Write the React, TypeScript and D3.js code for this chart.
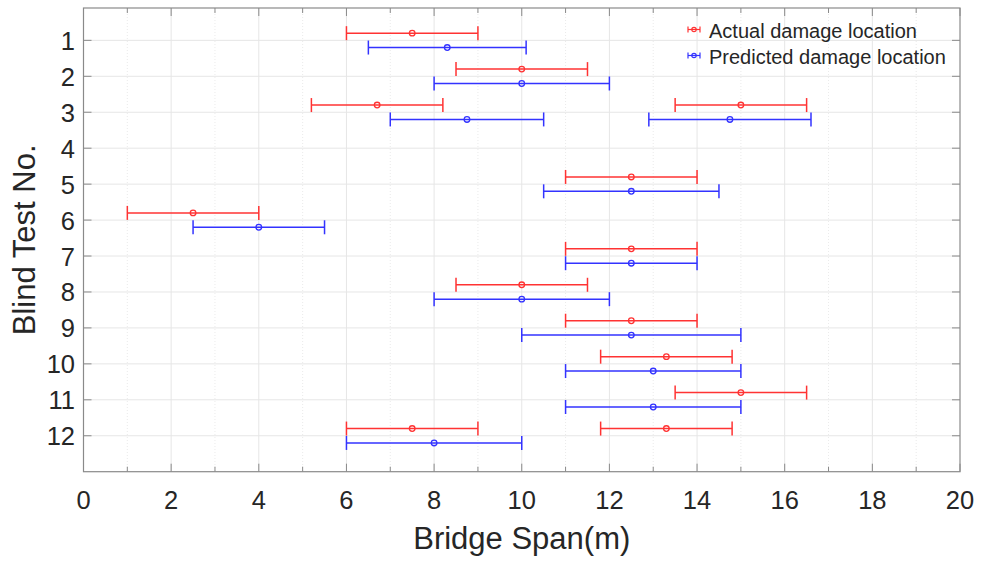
import React from "react";
import * as d3 from "d3";

// Actual damage locations (test no., centre, lower, upper)
const actualTest = [1, 2, 3, 3, 5, 6, 7, 8, 9, 10, 11, 12, 12];
const actualCenter = [7.5, 10, 6.7, 15, 12.5, 2.5, 12.5, 10, 12.5, 13.3, 15, 7.5, 13.3];
const actualLow = [6, 8.5, 5.2, 13.5, 11, 1, 11, 8.5, 11, 11.8, 13.5, 6, 11.8];
const actualHigh = [9, 11.5, 8.2, 16.5, 14, 4, 14, 11.5, 14, 14.8, 16.5, 9, 14.8];

// Predicted damage locations
const predTest = [1, 2, 3, 3, 5, 6, 7, 8, 9, 10, 11, 12];
const predCenter = [8.3, 10, 8.75, 14.75, 12.5, 4, 12.5, 10, 12.5, 13, 13, 8];
const predLow = [6.5, 8, 7, 12.9, 10.5, 2.5, 11, 8, 10, 11, 11, 6];
const predHigh = [10.1, 12, 10.5, 16.6, 14.5, 5.5, 14, 12, 15, 15, 15, 10];

const xMajorTicks = [0, 2, 4, 6, 8, 10, 12, 14, 16, 18, 20];
const xMinorTicks = [1, 3, 5, 7, 9, 11, 13, 15, 17, 19];
const yTicks = [1, 2, 3, 4, 5, 6, 7, 8, 9, 10, 11, 12];

const legendLabels = ["Actual damage location", "Predicted damage location"];

const W = 982;
const H = 561;
const L = 83.5, R = 960, T = 8, B = 471.7;
const RED = "#ff3333";
const BLUE = "#3333ff";
const AXIS = "#8a8a8a";
const TEXT = "#262626";
const FONT = "'Liberation Sans', Arial, Helvetica, sans-serif";

const x = d3.scaleLinear().domain([0, 20]).range([L, R]);
const y = d3.scaleLinear().domain([0.1, 13]).range([T, B]);

function ErrorBars({ tests, centers, lows, highs, offset, color }: any) {
  const cap = 7;
  return (
    <g stroke={color} strokeWidth={1.5} fill="none">
      {tests.map((t: number, i: number) => {
        const yy = y(t + offset);
        return (
          <g key={i}>
            <line x1={x(lows[i])} x2={x(highs[i])} y1={yy} y2={yy} />
            <line x1={x(lows[i])} x2={x(lows[i])} y1={yy - cap} y2={yy + cap} />
            <line x1={x(highs[i])} x2={x(highs[i])} y1={yy - cap} y2={yy + cap} />
            <circle cx={x(centers[i])} cy={yy} r={2.8} strokeWidth={1.3} />
          </g>
        );
      })}
    </g>
  );
}

export default function App() {
  return (
    <svg
      width={W}
      height={H}
      style={{ position: "absolute", left: 0, top: 0, background: "#fff" }}
      fontFamily={FONT}
    >
      <rect x={0} y={0} width={W} height={H} fill="#fff" />
      {/* minor grid */}
      <g stroke="#e4e4e4" strokeWidth={0.8} strokeDasharray="1,2">
        {xMinorTicks.map((v) => (
          <line key={v} x1={x(v)} x2={x(v)} y1={T} y2={B} />
        ))}
      </g>
      {/* major grid */}
      <g stroke="#e6e6e6" strokeWidth={1}>
        {xMajorTicks.slice(1, -1).map((v) => (
          <line key={v} x1={x(v)} x2={x(v)} y1={T} y2={B} />
        ))}
        {yTicks.map((v) => (
          <line key={v} x1={L} x2={R} y1={y(v)} y2={y(v)} />
        ))}
      </g>

      {/* ticks */}
      <g stroke={AXIS} strokeWidth={1}>
        {xMajorTicks.map((v) => (
          <g key={v}>
            <line x1={x(v)} x2={x(v)} y1={B} y2={B - 8} />
            <line x1={x(v)} x2={x(v)} y1={T} y2={T + 8} />
          </g>
        ))}
        {xMinorTicks.map((v) => (
          <g key={v}>
            <line x1={x(v)} x2={x(v)} y1={B} y2={B - 5} />
            <line x1={x(v)} x2={x(v)} y1={T} y2={T + 5} />
          </g>
        ))}
        {yTicks.map((v) => (
          <g key={v}>
            <line x1={L} x2={L + 8} y1={y(v)} y2={y(v)} />
            <line x1={R} x2={R - 8} y1={y(v)} y2={y(v)} />
          </g>
        ))}
      </g>

      {/* data */}
      <ErrorBars tests={actualTest} centers={actualCenter} lows={actualLow} highs={actualHigh} offset={-0.2} color={RED} />
      <ErrorBars tests={predTest} centers={predCenter} lows={predLow} highs={predHigh} offset={0.2} color={BLUE} />

      {/* frame */}
      <rect x={L} y={T} width={R - L} height={B - T} fill="none" stroke={AXIS} strokeWidth={1.2} />

      {/* tick labels */}
      <g fill={TEXT} fontSize={25.5}>
        {xMajorTicks.map((v) => (
          <text key={v} x={x(v)} y={508.5} textAnchor="middle">
            {v}
          </text>
        ))}
        {yTicks.map((v) => (
          <text key={v} x={75} y={y(v) + 9.5} textAnchor="end">
            {v}
          </text>
        ))}
      </g>

      {/* axis labels */}
      <text x={(L + R) / 2} y={548.5} textAnchor="middle" fontSize={31} fill={TEXT}>
        Bridge Span(m)
      </text>
      <text
        transform={`translate(35, ${(T + B) / 2}) rotate(-90)`}
        textAnchor="middle"
        fontSize={31}
        fill={TEXT}
      >
        Blind Test No.
      </text>

      {/* legend */}
      {legendLabels.map((lab, i) => {
        const cy = 29.5 + i * 26;
        const c = i === 0 ? RED : BLUE;
        return (
          <g key={lab}>
            <g stroke={c} strokeWidth={1.2} fill="none">
              <line x1={688} x2={700} y1={cy} y2={cy} />
              <line x1={688} x2={688} y1={cy - 3} y2={cy + 3} />
              <line x1={700} x2={700} y1={cy - 3} y2={cy + 3} />
              <circle cx={694} cy={cy} r={2.2} />
            </g>
            <text x={709} y={cy + 8.5} fontSize={20} fill={TEXT}>
              {lab}
            </text>
          </g>
        );
      })}
    </svg>
  );
}
